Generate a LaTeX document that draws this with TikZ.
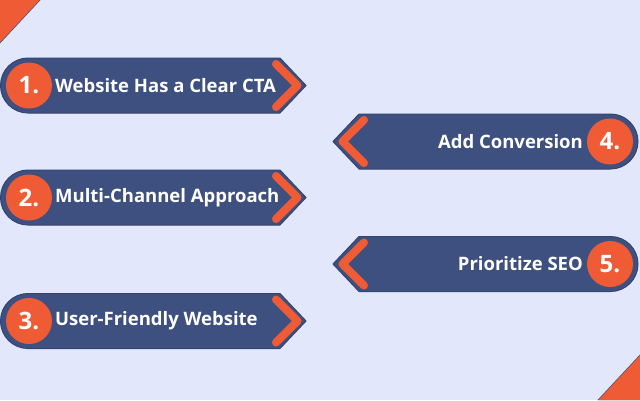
\documentclass[tikz,border=0pt]{standalone}
\usepackage{fontspec}
\setmainfont{Open Sans}
\definecolor{bg}{HTML}{E3E7FC}
\definecolor{navy}{HTML}{3E507F}
\definecolor{navyedge}{HTML}{33446F}
\definecolor{orng}{HTML}{EE5B35}
\begin{document}
\begin{tikzpicture}[x=1pt,y=-1pt,
  banner/.style={fill=navy,draw=navyedge,line width=1pt},
  chev/.style={draw=orng,line width=8pt,line cap=round,line join=round},
  numdisc/.style={circle,fill=orng,minimum size=46pt,inner sep=0pt,text=white,font=\bfseries\fontsize{24}{24}\selectfont},
  label/.style={text=white,font=\bfseries\fontsize{18.5}{21}\selectfont,inner sep=0pt}]
\fill[bg] (0,0) rectangle (640,400);
\useasboundingbox (0,0) rectangle (640,400);
% corner triangles
\fill[navy] (0,0) -- (40.5,0) -- (0,43.5) -- cycle;
\fill[orng] (0,0) -- (39.5,0) -- (0,42.5) -- cycle;
\fill[navy] (640,400) -- (597.5,400) -- (640,354.5) -- cycle;
\fill[orng] (640,400) -- (598.5,400) -- (640,355.5) -- cycle;
% left banners
\foreach \c/\n/\t in {85.5/1/Website Has a Clear CTA, 197.5/2/Multi-Channel Approach, 321/3/User-Friendly Website}{
  \draw[banner] (28,\c-27.5) -- (280,\c-27.5) -- (306,\c) -- (280,\c+27.5) -- (28,\c+27.5) arc[start angle=90,end angle=270,radius=27.5] -- cycle;
  \draw[chev] (276,\c-21.5) -- (297.5,\c) -- (276,\c+21.5);
  \node[numdisc] (n\n) at (29,\c) {\n.};
  \node[label,anchor=west] (t\n) at (55,\c) {\t};
}
% right banners
\foreach \c/\n/\t in {141.5/4/Add Conversion, 264/5/Prioritize SEO}{
  \draw[banner] (610.5,\c-27.5) -- (359,\c-27.5) -- (333,\c) -- (359,\c+27.5) -- (610.5,\c+27.5) arc[start angle=90,end angle=-90,radius=27.5] -- cycle;
  \draw[chev] (364,\c-21.5) -- (342.5,\c) -- (364,\c+21.5);
  \node[numdisc] (n\n) at (610,\c) {\n.};
  \node[label,anchor=east] (t\n) at (583,\c) {\t};
}
\end{tikzpicture}
\end{document}
